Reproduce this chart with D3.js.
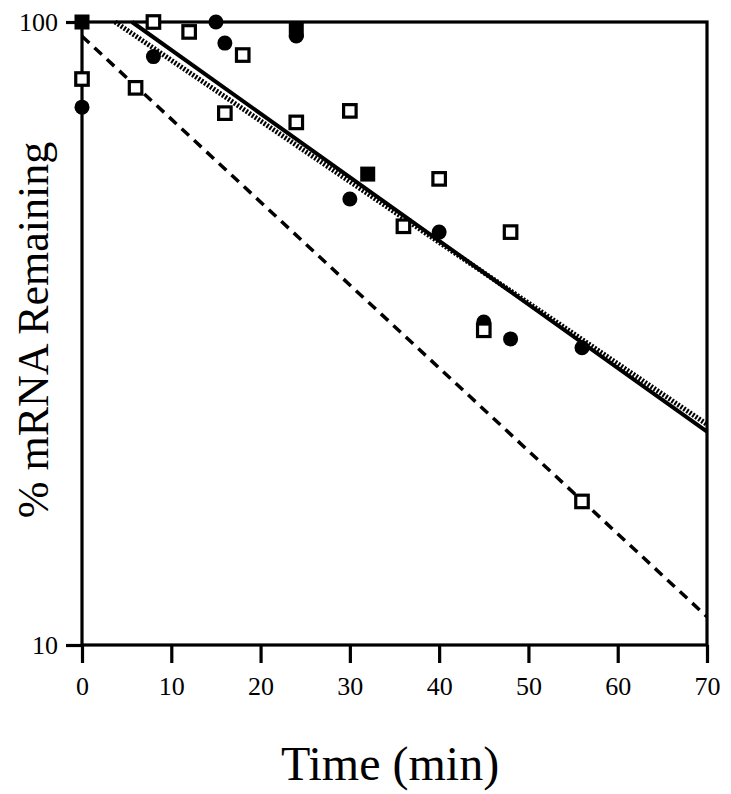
<!DOCTYPE html>
<html>
<head>
<meta charset="utf-8">
<script src="https://cdn.jsdelivr.net/npm/d3@7"></script>
<style>
  html, body { margin: 0; padding: 0; background: #fff; }
  svg { display: block; }
  text { font-family: "Liberation Serif", "DejaVu Serif", serif; fill: #000; }
  .tick text { font-size: 26px !important; font-family: "Liberation Serif", serif !important; }
</style>
</head>
<body>
<svg id="chart" width="731" height="794"></svg>
<script>
// ---- data ----
const xTicks = [0, 10, 20, 30, 40, 50, 60, 70];
const yTicks = [10, 100];

const circleTimes  = [0, 8, 15, 16, 24, 30, 40, 45, 48, 56];
const circleValues = [73, 88, 100, 92.5, 95, 52, 46, 33, 31, 30];

const filledSquareTimes  = [0, 24, 32];
const filledSquareValues = [100, 97, 57];

const openSquareTimes  = [0, 6, 8, 12, 16, 18, 24, 30, 36, 40, 45, 48, 56];
const openSquareValues = [81, 78.4, 100, 96.4, 71.4, 88.5, 69, 72, 47, 56, 32, 46, 17];

// fitted decay lines (endpoints)
const solidLineTimes   = [5.6, 70];
const solidLineValues  = [100, 22.0];
const hatchLineTimes   = [3.7, 70];
const hatchLineValues  = [100, 22.6];
const dashedLineTimes  = [0, 70];
const dashedLineValues = [94.9, 11.1];

const xLabel = "Time (min)";
const yLabel = "% mRNA Remaining";

// ---- layout ----
const svg = d3.select("#chart");
const mLeft = 82, mRight = 707, mTop = 22, mBottom = 645;

const x = d3.scaleLinear().domain([0, 70]).range([mLeft, mRight]);
const y = d3.scaleLog().domain([10, 100]).range([mBottom, mTop]);

const zip = (ts, vs) => ts.map((t, i) => ({ t, v: vs[i] }));
const line = d3.line().x(d => x(d.t)).y(d => y(d.v));

// lines
svg.append("path").datum(zip(dashedLineTimes, dashedLineValues))
  .attr("d", line).attr("fill", "none").attr("stroke", "#000")
  .attr("stroke-width", 3.5).attr("stroke-dasharray", "10,7");

svg.append("path").datum(zip(hatchLineTimes, hatchLineValues))
  .attr("d", line).attr("fill", "none").attr("stroke", "#000")
  .attr("stroke-width", 5).attr("stroke-dasharray", "2,1.6");

svg.append("path").datum(zip(solidLineTimes, solidLineValues))
  .attr("d", line).attr("fill", "none").attr("stroke", "#000")
  .attr("stroke-width", 4);

// axes
const xAxis = d3.axisBottom(x).tickValues(xTicks).tickSize(18).tickSizeOuter(0).tickPadding(14);
const gx = svg.append("g").attr("transform", `translate(0,${mBottom})`).call(xAxis)
  .attr("font-size", 26).attr("font-family", "Liberation Serif");
gx.select(".domain").remove();
gx.selectAll(".tick line").attr("stroke", "#000").attr("stroke-width", 3.2);

const yAxis = d3.axisLeft(y).tickValues(yTicks).tickFormat(d3.format("d")).tickSize(16).tickSizeOuter(0).tickPadding(8);
const gy = svg.append("g").attr("transform", `translate(${mLeft},0)`).call(yAxis)
  .attr("font-size", 26).attr("font-family", "Liberation Serif");
gy.select(".domain").remove();
gy.selectAll(".tick line").attr("stroke", "#000").attr("stroke-width", 3.2);

// frame
svg.append("rect").attr("x", mLeft).attr("y", mTop)
  .attr("width", mRight - mLeft).attr("height", mBottom - mTop)
  .attr("fill", "none").attr("stroke", "#000").attr("stroke-width", 3.2);

// markers
svg.append("g").selectAll("circle").data(zip(circleTimes, circleValues)).join("circle")
  .attr("cx", d => x(d.t)).attr("cy", d => y(d.v)).attr("r", 7.5).attr("fill", "#000");

const sq = 15;
svg.append("g").selectAll("rect").data(zip(filledSquareTimes, filledSquareValues)).join("rect")
  .attr("x", d => x(d.t) - sq / 2).attr("y", d => y(d.v) - sq / 2)
  .attr("width", sq).attr("height", sq).attr("fill", "#000");

const osq = 12.5;
svg.append("g").selectAll("rect").data(zip(openSquareTimes, openSquareValues)).join("rect")
  .attr("x", d => x(d.t) - osq / 2).attr("y", d => y(d.v) - osq / 2)
  .attr("width", osq).attr("height", osq)
  .attr("fill", "#fff").attr("stroke", "#000").attr("stroke-width", 3.2);

// titles
svg.append("text").attr("x", 390).attr("y", 780).attr("text-anchor", "middle")
  .style("font-size", "48px").text(xLabel);

svg.append("text").attr("transform", "translate(48,330) rotate(-90)")
  .attr("text-anchor", "middle").style("font-size", "44px").text(yLabel);
</script>
</body>
</html>
